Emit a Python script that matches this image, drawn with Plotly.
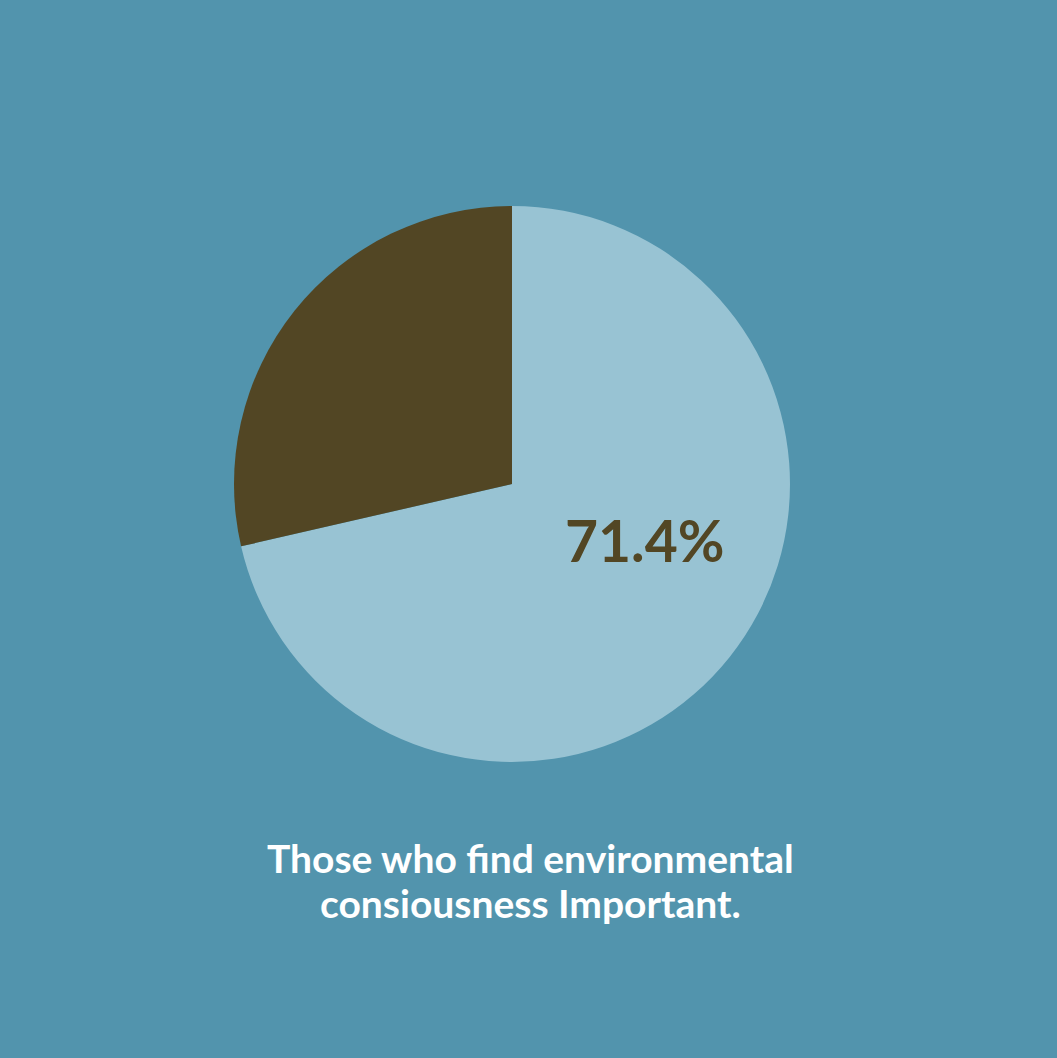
import plotly.graph_objects as go

labels = ["Important", "Not important"]
values = [71.4, 28.6]
colors = ["#98C3D3", "#524624"]
center_label = "71.4%"
caption_lines = ["Those who find environmental", "consiousness Important."]

fig = go.Figure(go.Pie(
    labels=labels, values=values, sort=False, direction="clockwise", rotation=0,
    marker=dict(colors=colors, line=dict(width=0)),
    textinfo="none", hoverinfo="label+percent", showlegend=False,
    domain=dict(x=[234/1057, 790/1057], y=[1-762/1058, 1-206/1058]),
))

fig.add_annotation(text="<b>%s</b>" % center_label, x=644/1057, y=1-540/1058, xref="paper", yref="paper",
                   xanchor="center", yanchor="middle",
                   showarrow=False, font=dict(family="Lato", size=57, color="#524624"))
for line, yc in zip(caption_lines, [858, 903]):
    fig.add_annotation(text="<b>%s</b>" % line,
                       x=530/1057, y=1-yc/1058, xref="paper", yref="paper", showarrow=False,
                       xanchor="center", yanchor="middle",
                       font=dict(family="Lato", size=39, color="white"), align="center")

fig.update_layout(width=1057, height=1058, margin=dict(l=0, r=0, t=0, b=0),
                  paper_bgcolor="#5294AD", plot_bgcolor="#5294AD")
fig.write_html("out.html", config={"displayModeBar": False},
               post_script="document.body.style.margin='0';document.body.style.background='#5294AD';document.body.style.overflow='hidden';")
